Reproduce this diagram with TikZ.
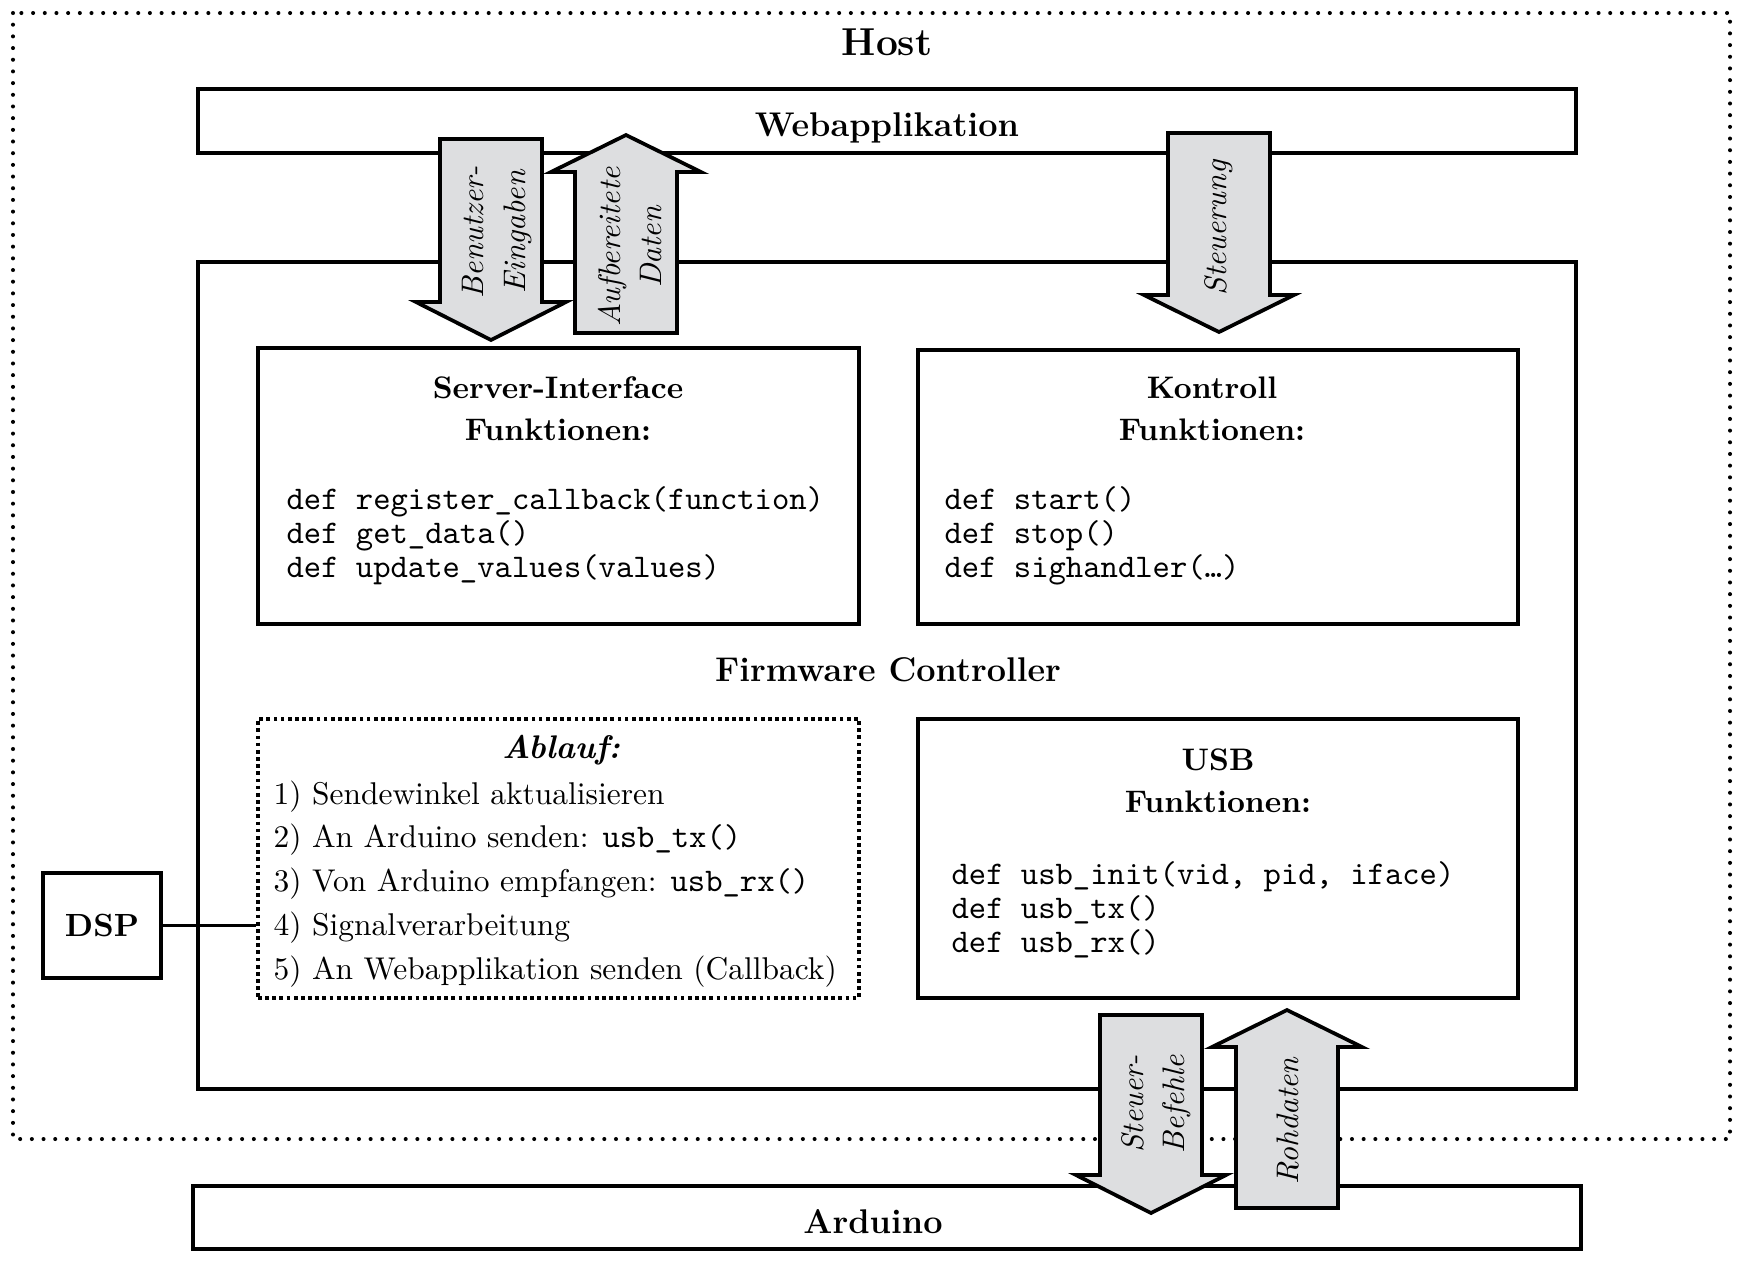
\documentclass[tikz,border=0pt]{standalone}
\usepackage{amsmath}
\usepackage[HTML]{xcolor}
\usepackage{tikz}
\usetikzlibrary{positioning, fit, calc}

\definecolor{arrowgray}{RGB}{221,222,224}
\newcommand{\tcode}[1]{{\fontsize{10.6}{10.9}\selectfont\ttfamily #1}}

\begin{document}
\begin{tikzpicture}[x=0.321pt, y=-0.321pt,
  box/.style={draw, line width=1.3pt, inner sep=0pt},
  flow/.style={draw, line width=1.2pt, fill=arrowgray, line join=miter},
  title/.style={font=\fontsize{10}{13.5}\selectfont\bfseries, align=center},
  head/.style={font=\fontsize{11}{13.5}\selectfont\bfseries},
  code/.style={font=\fontsize{10.6}{10.9}\selectfont\ttfamily, align=left, inner sep=0pt, anchor=west},
  lbl/.style={font=\fontsize{10}{13.2}\selectfont\itshape, rotate=90, align=center}]

\useasboundingbox (0,0) rectangle (1744,1270);

% Host
\draw[line width=1.3pt, line cap=round, dash pattern=on 0pt off 3.75pt] (13,13) rectangle (1730,1139);
\node[font=\fontsize{12.5}{14}\selectfont\bfseries] (host) at (887,42) {Host};

\node[box, fit={(198,89) (1576,153)}] (web) {};
\node[head] (webtxt) at (887,128) {Webapplikation};

% Firmware Controller
\node[box, fit={(198,262) (1576,1089)}] (fw) {};
\node[head] (fwtxt) at (888,670) {Firmware Controller};

\node[box, fit={(258,348) (859,624)}] (srv) {};
\node[title] (srvtxt) at (558,409) {Server-Interface\\Funktionen:};
\node[code] (srvcode) at (286,536) {def register\_callback(function)\\def get\_data()\\def update\_values(values)};

\node[box, fit={(918,350) (1518,624)}] (ktl) {};
\node[title] (ktltxt) at (1212,409) {Kontroll\\Funktionen:};
\node[code] (ktlcode) at (944,536) {def start()\\def stop()\\def sighandler(…)};

\node[box, fit={(258,719) (859,998)}, dash pattern=on 1.2pt off 1.1pt] (abl) {};
\node[font=\fontsize{10.5}{13}\selectfont\bfseries\itshape] (abltxt) at (561,750) {Ablauf:};
\node[font=\fontsize{10.1}{14.1}\selectfont, align=left, inner sep=0pt, anchor=west] (ablsteps) at (273,884)
  {1) Sendewinkel aktualisieren\\2) An Arduino senden: \tcode{usb\_tx()}\\3) Von Arduino empfangen: \tcode{usb\_rx()}\\4) Signalverarbeitung\\5) An Webapplikation senden (Callback)};

\node[box, fit={(918,719) (1518,998)}] (usb) {};
\node[title] (usbtxt) at (1218,781) {USB\\Funktionen:};
\node[code] (usbcode) at (951,910) {def usb\_init(vid, pid, iface)\\def usb\_tx()\\def usb\_rx()};

% DSP
\node[box, fit={(43,873) (161,978)}] (dsp) {};
\node[font=\fontsize{10.3}{13}\selectfont\bfseries] (dsptxt) at (dsp.center) {DSP};
\draw[line width=1pt] (dsp.east) -- (dsp.east -| abl.west);

% Arduino
\node[box, fit={(193,1186) (1581,1249)}] (ard) {};
\node[head] (ardtxt) at (873,1222) {Arduino};

% Pfeile
\draw[flow] (440,139) -- (542,139) -- (542,302) -- (566,302) -- (491,340) -- (416,302) -- (440,302) -- cycle;
\draw[flow] (575,333) -- (677,333) -- (677,172) -- (701,172) -- (626,135) -- (551,172) -- (575,172) -- cycle;
\draw[flow] (1168,133) -- (1270,133) -- (1270,295) -- (1294,295) -- (1219,332) -- (1144,295) -- (1168,295) -- cycle;
\draw[flow] (1100,1015) -- (1202,1015) -- (1202,1175) -- (1226,1175) -- (1151,1213) -- (1076,1175) -- (1100,1175) -- cycle;
\draw[flow] (1236,1208) -- (1338,1208) -- (1338,1047) -- (1362,1047) -- (1287,1010) -- (1212,1047) -- (1236,1047) -- cycle;

\node[lbl] (lbin) at (497,232) {Benutzer-\\Eingaben};
\node[lbl] (lbout) at (630,247) {Aufbereitete\\Daten};
\node[lbl] (lbctl) at (1219,228) {Steuerung};
\node[lbl] (lbcmd) at (1156,1104) {Steuer-\\Befehle};
\node[lbl] (lbraw) at (1288,1121) {Rohdaten};
\end{tikzpicture}
\end{document}
